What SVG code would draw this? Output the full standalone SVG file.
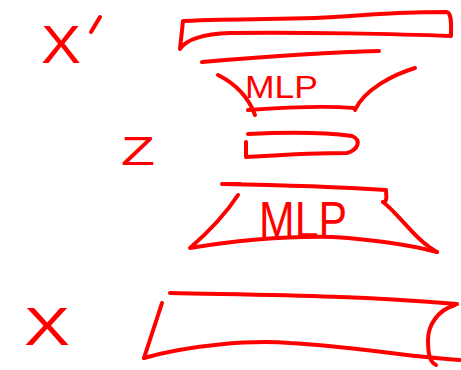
<svg xmlns="http://www.w3.org/2000/svg" width="461" height="370" viewBox="0 0 461 370">
  <style>
    .ink { fill: none; stroke: #ff0000; stroke-width: 4; stroke-linecap: round; stroke-linejoin: round; }
    .lbl { fill: #ff0000; font-family: "Liberation Sans", "DejaVu Sans", sans-serif; font-weight: normal; }
  </style>
  <rect width="461" height="370" fill="#ffffff"/>

  <!-- reconstructed output X' -->
  <g id="x-prime">
    <text class="lbl" x="41" y="63" font-size="54" textLength="40" lengthAdjust="spacingAndGlyphs">X</text>
    <path class="ink" d="M100,17 L91,32"/>
    <path class="ink" d="M183,21 C260,18 300,20 350,16 C400,12 430,12 447,12 C452,14 451,24 451,36 C400,34 300,32 230,33 C200,34 186,40 180,49 L183,21"/>
  </g>

  <!-- decoder MLP -->
  <g id="mlp-decoder">
    <path class="ink" d="M202,62 C260,57 330,52 379,51"/>
    <path class="ink" d="M218,75 C236,84 248,96 255,115"/>
    <path class="ink" d="M415,68 C392,75 364,90 355,110"/>
    <path class="ink" d="M248,110 C290,107 330,106 354,108"/>
    <text class="lbl" x="245" y="98" font-size="32" textLength="73" lengthAdjust="spacingAndGlyphs">MLP</text>
  </g>

  <!-- latent Z -->
  <g id="latent-z">
    <text class="lbl" x="121" y="165" font-size="40" textLength="34" lengthAdjust="spacingAndGlyphs">Z</text>
    <path class="ink" d="M248,134 C290,132 330,133 352,136 C362,140 358,150 347,153 C310,153 280,155 246,157 L246,142"/>
  </g>

  <!-- encoder MLP -->
  <g id="mlp-encoder">
    <path class="ink" d="M222,184 C280,185 340,187 386,190 C386,195 388,202 383,202"/>
    <path class="ink" stroke-width="6" d="M224,184 L240,184"/>
    <path class="ink" d="M383,202 C400,215 415,240 437,252"/>
    <path class="ink" d="M238,195 C225,215 205,235 190,248 C240,240 290,236 333,237 C380,240 410,245 437,252"/>
    <text class="lbl" x="259" y="237" font-size="50" textLength="88" lengthAdjust="spacingAndGlyphs">MLP</text>
  </g>

  <!-- input X -->
  <g id="input-x">
    <text class="lbl" x="24" y="345" font-size="54" textLength="46" lengthAdjust="spacingAndGlyphs">X</text>
    <path class="ink" d="M170,293 C260,295 350,295 457,304"/>
    <path class="ink" d="M162,303 L144,358"/>
    <path class="ink" d="M144,358 C190,345 250,340 290,343 C350,346 400,356 460,360"/>
    <path class="ink" d="M455,305 C438,310 428,325 428,340 C428,355 430,362 436,365"/>
  </g>

  <g id="connectors"/>
</svg>
